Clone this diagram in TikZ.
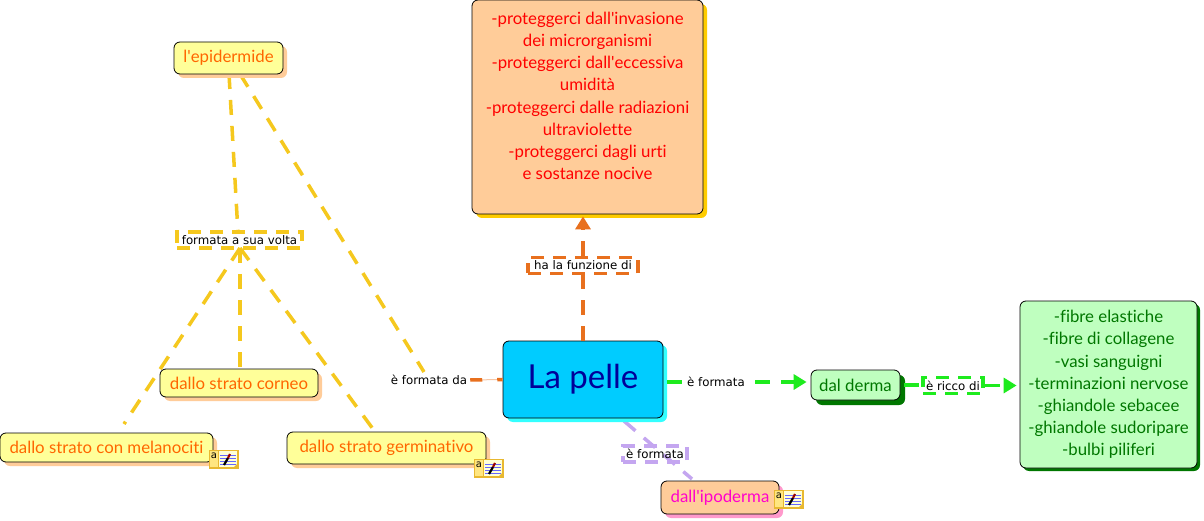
\documentclass[tikz,border=0pt]{standalone}
\usepackage{fontspec}
\setmainfont{Lato}[Ligatures={NoCommon}]
\newfontfamily\labelfont{DejaVu Sans}
\usetikzlibrary{arrows.meta}
\usetikzlibrary{calc}
\usetikzlibrary{positioning, shadows}
\definecolor{lineyellow}{HTML}{F5C81E}
\definecolor{lineorange}{HTML}{E8701E}
\definecolor{linegreen}{HTML}{1EEB1E}
\definecolor{linepurple}{HTML}{C4A6F0}
\definecolor{paleyellow}{HTML}{FFFF99}
\definecolor{peach}{HTML}{FFCC99}
\definecolor{palegreen}{HTML}{BFFFBF}
\definecolor{darkgreen}{HTML}{007700}
\definecolor{skyfill}{HTML}{00CCFF}
\definecolor{skyshadow}{HTML}{33FFFF}
\definecolor{titleblue}{HTML}{000099}
\definecolor{layertext}{HTML}{FF6600}
\definecolor{pinktext}{HTML}{FF00CC}
\definecolor{pinkshadow}{HTML}{FF99CC}
\definecolor{goldshadow}{HTML}{FFCC00}
\definecolor{badgeedge}{HTML}{E8B830}
\definecolor{badgefill}{HTML}{FFE680}
\tikzset{
    concept/.style={draw=black, rounded corners=6, line width=0.8, align=center, font=\fontsize{16.8}{22.2}\selectfont},
    layer/.style={concept, fill=paleyellow, text=layertext, drop shadow={shadow xshift=4, shadow yshift=4, fill=peach, opacity=1}},
    tag/.style={font=\labelfont\fontsize{11.8}{13}\selectfont, text=black, inner sep=0},
    tagbox/.style={tag, draw=#1, line width=3.5, dash pattern=on 13 off 9, minimum height=16},
    link/.style={line width=3.5, dash pattern=on 15 off 11, draw=#1},
    tip/.style={-{Triangle[length=13, width=15, fill=#1]}},
    notebadge/.pic={
        \fill[badgeedge] (-0.5,-0.5) rectangle (29.5,18.5);
        \fill[badgefill] (1,1) rectangle (9,17);
        \fill[paleyellow!40!white] (10,1) rectangle (28,17);
        \foreach \ly in {5,8,11,14}
            \draw[blue!60, line width=0.8] (11,\ly) -- (27,\ly);
        \draw[black, line width=2.2] (15,15) -- (19,8);
        \draw[red!60!black, line width=2.2] (19,8) -- (21,4);
        \fill[badgeedge] (24,18) -- (29,18) -- (29,13) -- cycle;
        \node[inner sep=0, font=\labelfont\fontsize{10}{10}\selectfont] (-a) at (5,6) {a};
    }
}

\begin{document}
\begin{tikzpicture}[x=1pt, y=-1pt]
    \useasboundingbox (0,0) rectangle (1204,521);
    \fill[white] (0,0) rectangle (1204,521);

    \coordinate (epiL) at (229,74);
    \coordinate (epiR) at (240,74);
    \coordinate (midTop) at (238,233);
    \coordinate (midB) at (240,248);
    \coordinate (melaEnd) at (124,424);
    \coordinate (germEnd) at (373,429);
    \coordinate (daTop) at (424,372);
    \coordinate (ipoStart) at (624,421);
    \coordinate (ipoEnd) at (692,479);

    % links first, the boxes go over them
    \draw[link=lineyellow] (epiL) -- (midTop);
    \draw[link=lineyellow] (epiR) -- (daTop);
    \draw[link=lineyellow] (midB) -- (melaEnd);
    \draw[link=lineyellow] (midB) -- (240,369);
    \draw[link=lineyellow] (midB) -- (germEnd);
    \draw[link=linepurple] (ipoStart) -- (ipoEnd);

    \node[concept, fill=peach, text=red, minimum width=231, minimum height=214, drop shadow={shadow xshift=4, shadow yshift=4, fill=goldshadow, opacity=1}] (funzioni) at (587.5,107)
    {-proteggerci dall\textquotesingle invasione\\ dei microrganismi\\ -proteggerci dall\textquotesingle eccessiva\\ umidità\\ -proteggerci dalle radiazioni\\ ultraviolette\\ -proteggerci dagli urti\\ e sostanze nocive\\ ~};

    \node[concept, fill=skyfill, text=titleblue, minimum width=160, minimum height=77, font=\fontsize{33}{40}\selectfont, drop shadow={shadow xshift=4, shadow yshift=4, fill=skyshadow, opacity=1}] (pelle) at (583,379.5) {La pelle};

    \node[layer, minimum width=109, minimum height=32] (epidermide) at (228.5,58) {l\textquotesingle epidermide};
    \node[layer, minimum width=158, minimum height=28] (corneo) at (239,383) {dallo strato corneo};
    \node[layer, minimum width=213, minimum height=29] (melanociti) at (106.5,447.5) {dallo strato con melanociti};
    \node[layer, minimum width=199, minimum height=32] (germinativo) at (386.5,448) {dallo strato germinativo};

    \node[concept, fill=palegreen, text=darkgreen, minimum width=89, minimum height=30, drop shadow={shadow xshift=5, shadow yshift=5, fill=darkgreen, opacity=1}] (derma) at (855.5,385) {dal derma};
    \node[concept, fill=palegreen, text=darkgreen, minimum width=177, minimum height=167, drop shadow={shadow xshift=3, shadow yshift=3, fill=darkgreen, opacity=1}] (fibre) at (1108.5,384.5)
    {-fibre elastiche\\ -fibre di collagene\\ -vasi sanguigni\\ -terminazioni nervose\\ -ghiandole sebacee\\ -ghiandole sudoripare\\ -bulbi piliferi};
    \node[concept, fill=peach, text=pinktext, minimum width=118, minimum height=33, drop shadow={shadow xshift=4, shadow yshift=4, fill=pinkshadow, opacity=1}] (ipoderma) at (720,497.5) {dall\textquotesingle ipoderma};

    \node[tagbox=lineyellow, minimum width=125] (sua) at (239.5,240) {formata a sua volta};
    \node[tagbox=lineorange, minimum width=110] (funzione) at (583,265.5) {ha la funzione di};
    \node[tag] (formatada) at (429,380) {è formata da};
    \node[tag] (formataG) at (716,382) {è formata};
    \node[tagbox=linegreen, minimum width=60] (ricco) at (953,385.5) {è ricco di};
    \node[tagbox=linepurple, minimum width=64] (formataP) at (655,454) {è formata};

    \draw[link=lineorange] (pelle.north) -- (funzione.south);
    \draw[link=lineorange, tip=lineorange, shorten >=2] (funzione.north) -- (funzione.north |- funzioni.south);
    \draw[lineorange!40, line width=1] ([xshift=3]formatada.east) -- (pelle.west);
    \draw[link=lineorange, dash pattern=on 12 off 15] ([xshift=3]formatada.east) -- (pelle.west);
    \draw[link=linegreen] ([xshift=4]pelle.east |- formataG.west) -- ([xshift=-5]formataG.west);
    \draw[link=linegreen, tip=linegreen, shorten >=4] ([xshift=10]formataG.east) -- (derma.west |- formataG.east);
    \draw[link=linegreen] ([xshift=4]derma.east) -- (ricco.west |- derma.east);
    \draw[link=linegreen, tip=linegreen, shorten >=3] (ricco.east) -- (fibre.west |- ricco.east);

    \pic (notaM) at (209,450) {notebadge};
    \pic (notaG) at (474,459) {notebadge};
    \pic (notaI) at (774,490) {notebadge};
\end{tikzpicture}
\end{document}
